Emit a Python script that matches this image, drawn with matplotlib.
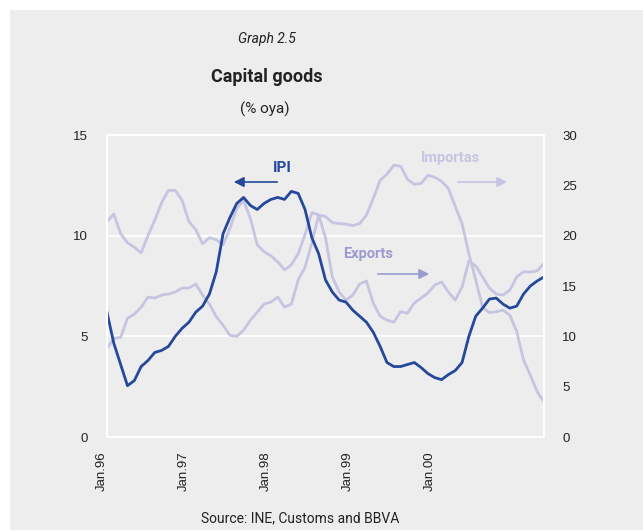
import matplotlib.pyplot as plt
import matplotlib.transforms as mtransforms
from matplotlib.patches import Rectangle, FancyArrowPatch
import numpy as np

# monthly data, Jan.96 onwards (% oya)
months = np.arange(65)
xtick_pos = [0, 12, 24, 36, 48]
xtick_labels = ["Jan.96", "Jan.97", "Jan.98", "Jan.99", "Jan.00"]

ipi = [6.2, 4.65, 3.6, 2.55, 2.8, 3.5, 3.8, 4.2, 4.3, 4.5,
       5.0, 5.4, 5.7, 6.2, 6.5, 7.1, 8.2, 10.1, 10.9, 11.6,
       11.9, 11.5, 11.3, 11.6, 11.8, 11.9, 11.8, 12.2, 12.1, 11.3,
       9.9, 9.1, 7.8, 7.2, 6.8, 6.7, 6.3, 6.0, 5.7, 5.2,
       4.5, 3.7, 3.5, 3.5, 3.6, 3.7, 3.45, 3.15, 2.95, 2.85,
       3.1, 3.3, 3.7, 5.0, 6.0, 6.4, 6.85, 6.9, 6.6, 6.4,
       6.5, 7.1, 7.5, 7.75, 7.95]

exports = [21.4, 22.15, 20.2, 19.3, 18.85, 18.3, 20.0, 21.55, 23.3, 24.5,
           24.5, 23.5, 21.4, 20.6, 19.2, 19.8, 19.6, 19.1, 20.7, 22.7,
           23.5, 21.7, 19.1, 18.4, 18.0, 17.4, 16.6, 17.1, 18.2, 20.1,
           22.3, 22.05, 19.8, 15.9, 14.4, 13.6, 14.1, 15.2, 15.5, 13.3,
           12.0, 11.6, 11.4, 12.45, 12.3, 13.3, 13.8, 14.3, 15.1, 15.4,
           14.4, 13.6, 14.9, 17.5, 17.0, 15.9, 14.8, 14.2, 14.1, 14.6,
           15.9, 16.4, 16.4, 16.5, 17.25]

imports = [8.8, 9.8, 9.9, 11.8, 12.2, 12.9, 13.9, 13.8, 14.1, 14.2,
           14.4, 14.8, 14.8, 15.2, 14.1, 13.2, 11.95, 11.1, 10.1, 10.0,
           10.6, 11.6, 12.4, 13.2, 13.4, 13.9, 12.9, 13.2, 15.6, 16.85,
           19.3, 22.05, 21.9, 21.3, 21.2, 21.15, 21.0, 21.2, 22.05, 23.7,
           25.5, 26.1, 27.0, 26.9, 25.6, 25.1, 25.2, 26.0, 25.8, 25.4,
           24.7, 22.9, 21.2, 18.2, 15.6, 12.9, 12.35, 12.45, 12.6, 12.1,
           10.5, 7.65, 6.15, 4.5, 3.5]

W, H = 643, 531
BG = "#ededed"
DARK = "#24489a"
LIGHT = "#c5c5e2"
MID = "#9b9bcf"
TXT = "#222222"
head = ["Roboto", "DejaVu Sans"]
plt.rcParams["font.family"] = ["Liberation Sans", "DejaVu Sans"]

fig = plt.figure(figsize=(W / 100, H / 100), dpi=100, facecolor="white")
fig.patches.append(Rectangle((10 / W, 1 - 530 / H), 633 / W, 520 / H,
                             transform=fig.transFigure, facecolor=BG,
                             edgecolor="none", zorder=-5))

def px(x, y):
    return x / W, 1 - y / H

ax = fig.add_axes([107 / W, 1 - 437 / H, 437 / W, 302 / H])
ax2 = ax.twinx()
ax2.set_zorder(1)
ax.set_zorder(2)
ax.patch.set_visible(False)
ax2.patch.set_facecolor(BG)

# white grid lines at 5 and 10 (10 and 20 on the right scale)
for yv in (10, 20):
    ax2.axhline(yv, color="white", lw=1.3, zorder=0.5)

ax2.plot(months, imports, color=LIGHT, lw=2)
ax2.plot(months, exports, color=LIGHT, lw=2)
ax.plot(months, ipi, color=DARK, lw=2)

ax.set_xlim(0, 64)
ax.set_ylim(0, 15)
ax2.set_ylim(0, 30)
ax.set_yticks([0, 5, 10, 15])
ax2.set_yticks([0, 5, 10, 15, 20, 25, 30])
ax.set_xticks(xtick_pos)
ax.set_xticklabels(xtick_labels, rotation=90)
for a in (ax, ax2):
    a.tick_params(length=0, labelsize=9.5, colors=TXT)
    for s in a.spines.values():
        s.set_color("white")
        s.set_linewidth(1.5)
ax.tick_params(axis="y", pad=14)
ax2.tick_params(axis="y", pad=13)
ax.tick_params(axis="x", pad=10)
shift = mtransforms.ScaledTranslation(-5 / 100, 0, fig.dpi_scale_trans)
for lab in ax.get_xticklabels():
    lab.set_transform(lab.get_transform() + shift)

# series labels and arrows
def arrow(p0, p1, col):
    fig.patches.append(FancyArrowPatch(
        px(*p0), px(*p1), transform=fig.transFigure,
        arrowstyle="-|>,head_length=6,head_width=3", color=col, lw=1.2,
        zorder=10))

fig.text(*px(282, 168), "IPI", color=DARK, fontsize=11, fontweight="bold",
         family=head, ha="center", va="center")
arrow((280, 182), (231, 182), DARK)

fig.text(*px(450, 158), "Importas", color=LIGHT, fontsize=10.5, fontweight="bold",
         family=head, ha="center", va="center")
arrow((455, 182), (510, 182), LIGHT)

fig.text(*px(368, 254), "Exports", color=MID, fontsize=10.5, fontweight="bold",
         family=head, ha="center", va="center")
arrow((375, 274), (432, 274), MID)

# headings and source
fig.text(*px(267, 39), "Graph 2.5", fontsize=10, style="italic",
         family=head, ha="center", va="center", color=TXT)
fig.text(*px(267, 77), "Capital goods", fontsize=13, fontweight="bold",
         family=head, ha="center", va="center", color=TXT)
fig.text(*px(265, 109), "(% oya)", fontsize=11, family=head,
         ha="center", va="center", color=TXT)
fig.text(*px(300, 518), "Source: INE, Customs and BBVA", fontsize=10,
         family=head, ha="center", va="center", color=TXT)

fig.savefig("out.png", dpi=100, facecolor="white")
